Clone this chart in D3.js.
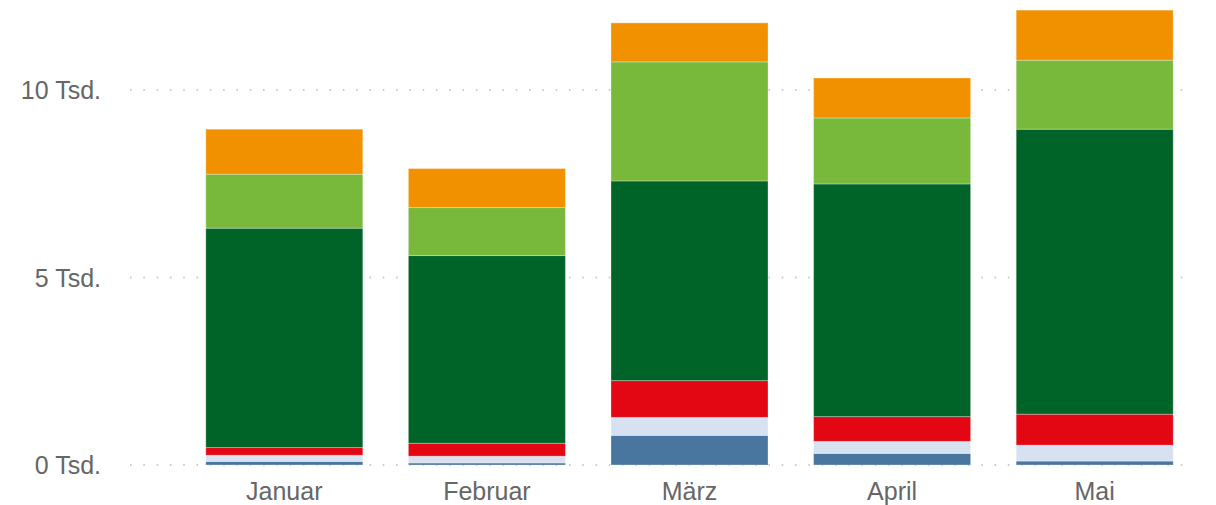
<!DOCTYPE html>
<html><head><meta charset="utf-8">
<script src="https://cdn.jsdelivr.net/npm/d3@7"></script>
<style>html,body{margin:0;padding:0;background:#fff;}svg{display:block;}</style>
</head><body>
<svg id="c" width="1216" height="505"></svg>
<script>
const months = ["Januar", "Februar", "März", "April", "Mai"];
const seriesNames = ["S1", "S2", "S3", "S4", "S5", "S6"];
const s1 = [95, 55, 790, 310, 105];
const s2 = [165, 180, 480, 320, 425];
const s3 = [205, 345, 980, 660, 825];
const s4 = [5850, 5005, 5325, 6205, 7600];
const s5 = [1440, 1280, 3175, 1760, 1840];
const s6 = [1200, 1040, 1040, 1065, 1335];
const yTicks = [0, 5000, 10000];
const yTickLabels = ["0 Tsd.", "5 Tsd.", "10 Tsd."];
const colors = ["#48769f", "#d6e2f2", "#e30613", "#006428", "#78b83a", "#f29100"];

const rows = months.map((m, i) => ({month: m, S1: s1[i], S2: s2[i], S3: s3[i], S4: s4[i], S5: s5[i], S6: s6[i]}));
const stack = d3.stack().keys(seriesNames)(rows);

const svg = d3.select("#c");
const x = d3.scaleBand().domain(months).range([183, 1196]).paddingInner(0.225).paddingOuter(0.1125);
const y = d3.scaleLinear().domain([0, 10000]).range([465, 90]);

// gridlines
const grid = svg.append("g");
yTicks.forEach(t => {
  grid.append("line")
    .attr("x1", 130).attr("x2", 1192)
    .attr("y1", y(t)).attr("y2", y(t))
    .attr("stroke", "#cccccc").attr("stroke-width", 2)
    .attr("stroke-dasharray", "1.6,11.7").attr("stroke-linecap", "butt");
});

// bars
svg.append("g").selectAll("g").data(stack).join("g")
  .attr("fill", (d, i) => colors[i])
  .selectAll("rect").data(d => d).join("rect")
  .attr("x", d => x(d.data.month))
  .attr("width", x.bandwidth())
  .attr("y", d => y(d[1]))
  .attr("height", d => y(d[0]) - y(d[1]))
  .attr("stroke", "#fff").attr("stroke-opacity", 0.3).attr("stroke-width", 1);

// y axis labels
svg.append("g").selectAll("text").data(yTicks).join("text")
  .attr("x", 101).attr("y", d => y(d))
  .attr("dy", "0.36em")
  .attr("text-anchor", "end")
  .attr("font-family", "Liberation Sans, Arial, sans-serif")
  .attr("font-size", 25).attr("fill", "#666")
  .text((d, i) => yTickLabels[i]);

// x axis labels
svg.append("g").selectAll("text").data(months).join("text")
  .attr("x", d => x(d) + x.bandwidth() / 2).attr("y", 491)
  .attr("dy", "0.36em")
  .attr("text-anchor", "middle")
  .attr("font-family", "Liberation Sans, Arial, sans-serif")
  .attr("font-size", 25).attr("fill", "#666")
  .text(d => d);
</script>
</body></html>
